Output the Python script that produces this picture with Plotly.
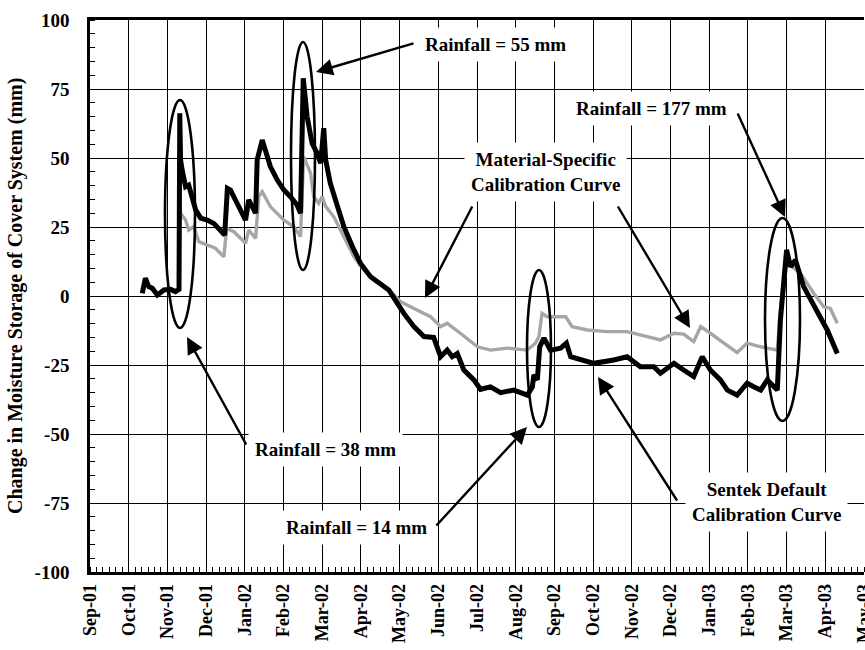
import plotly.graph_objects as go

# ---- data (x = months since 1 Sep 2001, y = change in storage, mm) ----
month_labels = ["Sep-01", "Oct-01", "Nov-01", "Dec-01", "Jan-02", "Feb-02", "Mar-02",
                "Apr-02", "May-02", "Jun-02", "Jul-02", "Aug-02", "Sep-02", "Oct-02",
                "Nov-02", "Dec-02", "Jan-03", "Feb-03", "Mar-03", "Apr-03", "May-03"]
y_ticks = [100, 75, 50, 25, 0, -25, -50, -75, -100]
y_tick_labels = ["100", "75", "50", "25", "0", "-25", "-50", "-75", "-100"]

sentek_x = [1.35, 1.43, 1.52, 1.61, 1.74, 1.91, 2.08, 2.21, 2.30, 2.32, 2.34, 2.38, 2.47,
            2.55, 2.64, 2.73, 2.86, 3.03, 3.20, 3.37, 3.48, 3.55, 3.63, 3.80, 4.02, 4.10,
            4.19, 4.28, 4.32, 4.45, 4.53, 4.66, 4.84, 5.01, 5.18, 5.35, 5.44, 5.51, 5.61,
            5.74, 5.87, 5.96, 6.04, 6.09, 6.21, 6.39, 6.56, 6.78, 6.99, 7.25, 7.51, 7.72,
            7.94, 8.11, 8.37, 8.63, 8.88, 9.06, 9.23, 9.36, 9.49, 9.66, 9.92, 10.09, 10.35,
            10.61, 10.95, 11.30, 11.43, 11.47, 11.56, 11.62, 11.73, 11.90, 12.16, 12.31,
            12.42, 12.67, 13.02, 13.53, 13.88, 14.22, 14.57, 14.74, 15.09, 15.34, 15.60,
            15.82, 16.03, 16.29, 16.47, 16.72, 16.98, 17.15, 17.33, 17.50, 17.76, 17.84,
            17.91, 18.00, 18.10, 18.23, 18.44, 18.62, 18.79, 19.05, 19.31]
sentek_y = [1.0, 6.4, 3.4, 2.8, 0.4, 2.2, 2.4, 1.6, 2.4, 66.2, 49.3, 45.7, 39.6,
            40.2, 36.0, 31.2, 28.2, 27.5, 26.3, 23.9, 22.1, 39.0, 38.4, 33.6, 27.5, 34.8,
            32.4, 30.0, 49.3, 56.5, 52.9, 46.9, 42.0, 38.4, 36.0, 33.0, 30.0, 78.9, 65.0,
            55.3, 51.7, 48.1, 60.8, 49.3, 40.8, 32.4, 25.1, 17.9, 11.8, 7.0, 4.3, 2.2,
            -2.6, -6.3, -11.1, -14.7, -15.0, -22.0, -19.6, -22.0, -20.8, -26.8, -30.4, -33.8, -32.9,
            -35.0, -34.1, -35.9, -32.9, -28.6, -30.4, -18.4, -15.3, -19.6, -18.9, -17.1,
            -22.0, -23.2, -24.4, -23.2, -22.0, -25.6, -25.6, -28.0, -24.4, -26.8, -29.2,
            -22.0, -26.8, -30.4, -34.1, -35.9, -31.6, -32.9, -34.1, -30.4, -34.1, -8.7,
            1.0, 16.7, 10.6, 13.0, 3.4, -1.4, -5.1, -12.3, -20.8]

material_x = [1.35, 1.43, 1.52, 1.61, 1.74, 1.91, 2.08, 2.21, 2.30, 2.32, 2.34, 2.47, 2.55,
              2.68, 2.81, 3.03, 3.24, 3.46, 3.53, 3.72, 4.02, 4.10, 4.28, 4.36, 4.45, 4.66,
              5.01, 5.27, 5.44, 5.52, 5.70, 5.78, 5.91, 6.00, 6.09, 6.30, 6.56, 6.82, 7.08,
              7.42, 7.77, 8.02, 8.37, 8.71, 8.80, 9.06, 9.23, 9.57, 10.01, 10.35, 10.78,
              11.30, 11.51, 11.60, 11.68, 11.81, 11.98, 12.29, 12.46, 12.85, 13.36, 13.88,
              14.40, 14.74, 15.09, 15.34, 15.60, 15.78, 16.03, 16.38, 16.72, 16.98, 17.33,
              17.76, 17.84, 17.92, 18.02, 18.20, 18.36, 18.70, 18.96, 19.13, 19.31]
material_y = [1.0, 6.4, 3.4, 2.8, 0.4, 2.2, 2.4, 1.6, 2.4, 33.0, 30.0, 27.5, 23.9,
              25.1, 19.7, 18.5, 17.3, 14.2, 24.5, 23.3, 19.1, 23.9, 20.9, 36.0, 37.8, 32.4,
              27.5, 25.1, 21.5, 50.5, 44.5, 36.0, 33.6, 36.0, 32.5, 28.7, 21.5, 14.2, 9.4,
              5.2, 1.6, -2.0, -4.5, -6.8, -7.5, -11.1, -9.9, -13.5, -18.4, -19.6, -18.9,
              -19.6, -17.1, -14.7, -6.3, -7.5, -7.5, -7.5, -11.1, -12.3, -12.9, -12.9,
              -14.7, -15.9, -13.5, -13.8, -16.5, -11.1, -13.5, -17.1, -20.5, -17.1, -18.4,
              -19.6, -5.0, 5.0, 12.0, 10.0, 8.2, 1.0, -3.9, -4.5, -9.9]

# ---- layout geometry helpers (pixel -> data) ----
L, R, T, B = 90, 1, 20, 78
W, H = 865, 650
PW, PH = W - L - R, H - T - B
XMAX = 20.0


def mx(px):
    return (px - L) / PW * XMAX


def vy(py):
    return 100 - (py - T) / PH * 200


FONT = "Liberation Serif, Times New Roman, serif"

fig = go.Figure()
fig.add_trace(go.Scatter(x=material_x, y=material_y, mode="lines",
                         line=dict(color="#a6a6a6", width=3.4),
                         name="Material-Specific Calibration Curve", showlegend=False))
fig.add_trace(go.Scatter(x=sentek_x, y=sentek_y, mode="lines",
                         line=dict(color="#000000", width=5),
                         name="Sentek Default Calibration Curve", showlegend=False))

# ellipses around rainfall events (pixel boxes)
ellipses = [(165, 100, 195, 328), (291, 42, 315, 270), (527, 270, 551, 427), (765, 218, 800, 421)]
for x0, y0, x1, y1 in ellipses:
    fig.add_shape(type="circle", xref="x", yref="y", x0=mx(x0), x1=mx(x1), y0=vy(y0), y1=vy(y1),
                  line=dict(color="black", width=2.6), layer="above")

# arrows: (start px, tip px)
arrows = [((415, 43), (316, 72)), ((737, 112), (785, 217)), ((473, 205), (425, 298)),
          ((617, 205), (690, 328)), ((247, 446), (187, 337)), ((435, 527), (527, 427)),
          ((678, 502), (598, 377))]
for (sx, sy), (tx, ty) in arrows:
    fig.add_annotation(x=mx(tx), y=vy(ty), ax=mx(sx), ay=vy(sy), axref="x", ayref="y",
                       xref="x", yref="y", text="", showarrow=True, arrowhead=2,
                       arrowsize=1.4, arrowwidth=2.4, arrowcolor="black")

labels = [("Rainfall = 55 mm", 495, 44), ("Rainfall = 177 mm", 651, 108),
          ("Material-Specific<br>Calibration Curve", 545, 172),
          ("Rainfall = 38 mm", 325, 449), ("Rainfall = 14 mm", 356, 527),
          ("Sentek Default<br>Calibration Curve", 766, 502)]
for txt, px, py in labels:
    fig.add_annotation(x=mx(px), y=vy(py), xref="x", yref="y", text=txt, showarrow=False,
                       font=dict(family=FONT, size=19, color="black", weight="bold"),
                       bgcolor="white", borderpad=6, align="center")

# y-axis title
fig.add_annotation(x=(15 - L) / PW, y=0.5, xref="paper", yref="paper",
                   text="Change in Moisture Storage of Cover System (mm)", textangle=-90,
                   showarrow=False, xanchor="center", yanchor="middle",
                   font=dict(family=FONT, size=20, color="black", weight="bold"))

fig.update_layout(
    width=W, height=H, margin=dict(l=L, r=R, t=T, b=B, autoexpand=False),
    plot_bgcolor="white", paper_bgcolor="white", showlegend=False,
    xaxis=dict(range=[0, XMAX], tickvals=list(range(len(month_labels))), ticktext=month_labels,
               tickangle=-90, ticks="", showgrid=True, gridcolor="black", gridwidth=1,
               zeroline=False, showline=True, linecolor="black", linewidth=2.5, mirror=True,
               tickfont=dict(family=FONT, size=18, color="black", weight="bold"),
               ticklabelstandoff=2, automargin=False, ticklabeloverflow="allow",
               minor=dict(ticks="inside", ticklen=5, tickwidth=1, tickcolor="black",
                          dtick=1 / 6, tick0=0, showgrid=False)),
    yaxis=dict(range=[-100, 100], tickvals=y_ticks, ticktext=y_tick_labels, ticks="",
               showgrid=True, gridcolor="black", gridwidth=1, zeroline=False,
               showline=True, linecolor="black", linewidth=2.5,
               tickfont=dict(family=FONT, size=19, color="black", weight="bold"),
               ticklabelstandoff=14, automargin=False,
               minor=dict(ticks="inside", ticklen=5, tickwidth=1, tickcolor="black",
                          dtick=5, tick0=0, showgrid=False)),
)

fig.write_html("out.html", config={"displayModeBar": False},
               post_script="document.body.style.margin='0';"
                           "document.body.style.overflow='hidden';")
